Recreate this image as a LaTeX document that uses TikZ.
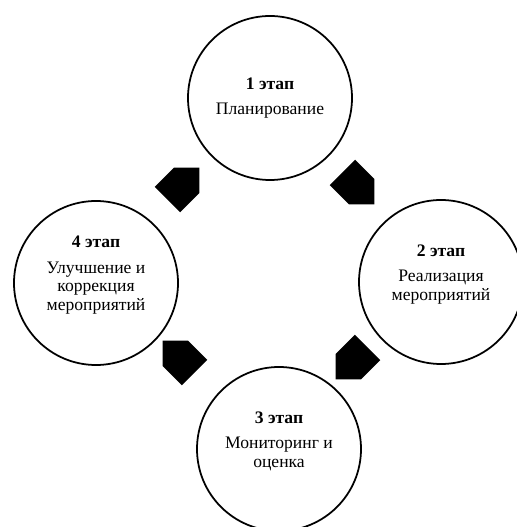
\documentclass[tikz,border=0pt]{standalone}
\usepackage{fontspec}
\setmainfont{Liberation Serif}
\usetikzlibrary{shapes, shapes.arrows, positioning}

\begin{document}
\begin{tikzpicture}[every node/.style={font=\fontsize{10}{10.5}\selectfont},
        stage/.style={draw, circle, line width=1pt, minimum size=3.28cm, align=center, inner sep=0pt},
        lifted/.style={execute at end node={\rule[-11pt]{0pt}{0pt}}},
        blockarrow/.style={single arrow, fill=black, single arrow head extend=0pt, single arrow tip angle=90,
            minimum width=0.72cm, minimum height=0.9cm, inner sep=0pt}]
        \useasboundingbox (0,0) rectangle (10.34,10.54);

        % stages
        \node[stage] (S1) at (5.40,8.58) {\textbf{1 этап}\\[4pt]Планирование};
        \node[stage, lifted] (S2) at (8.82,4.90) {\textbf{2 этап}\\[4pt]Реализация\\мероприятий};
        \node[stage, lifted] (S3) at (5.58,1.56) {\textbf{3 этап}\\[4pt]Мониторинг и\\оценка};
        \node[stage, lifted] (S4) at (1.92,4.88) {\textbf{4 этап}\\[4pt]Улучшение и\\коррекция\\мероприятий};

        % block arrows between the stages
        \foreach \n/\pos/\ang in {1/{7.04,6.90}/-45, 2/{7.16,3.40}/-135, 3/{3.70,3.28}/135, 4/{3.54,6.74}/45}{
            \node[blockarrow, rotate=\ang] (A\n) at (\pos) {};
        }
    \end{tikzpicture}
\end{document}
